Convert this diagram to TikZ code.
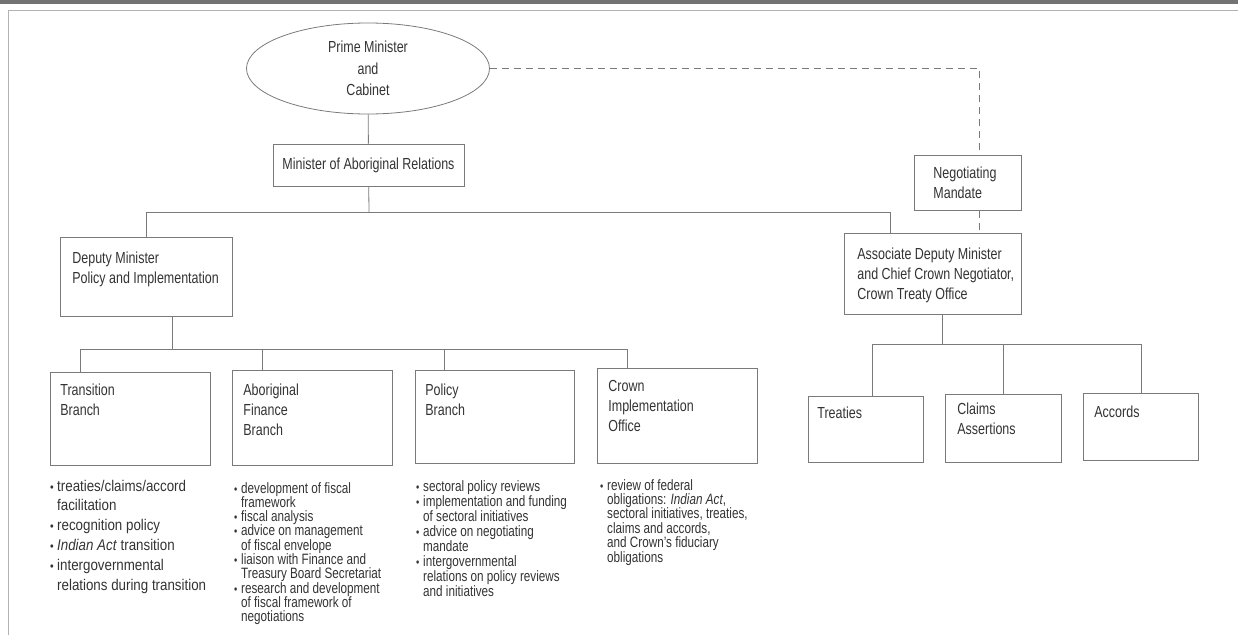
\documentclass[tikz,border=0pt]{standalone}
\usepackage{fontspec}
\setmainfont{Liberation Sans}[FakeStretch=0.78]
\newfontfamily\widefont{Liberation Sans}[FakeStretch=0.86]
\usetikzlibrary{shapes.geometric}
\definecolor{inkgray}{HTML}{333333}
\definecolor{rulegray}{HTML}{7A7A7A}
\newcommand{\bul}{\makebox[7pt][l]{\fontsize{12}{12}\selectfont\textbullet}}
\newcommand{\hang}{\hspace*{7pt}}
\tikzset{
  orgbox/.style={draw=rulegray, line width=0.8pt, rectangle, anchor=north west,
    inner xsep=0pt, text=inkgray, font=\fontsize{16}{20}\selectfont},
  notes/.style={anchor=base west, inner sep=0pt, text=inkgray},
  link/.style={draw=rulegray, line width=0.8pt},
  mandateline/.style={link, dash pattern=on 7pt off 5pt}
}
\begin{document}
\begin{tikzpicture}[x=1pt, y=-1pt]
    \useasboundingbox (0,0) rectangle (1238,635);
    % cadre de la page
    \fill[black!55] (0,0) rectangle (1238,4);
    \draw[black!30, line width=0.8pt] (8,635) -- (8,10) -- (1238,10);

    % Cabinet et ministre
    \node[draw=rulegray, line width=0.8pt, ellipse, minimum width=243, minimum height=91, inner sep=0pt,
      text=inkgray, align=center, font=\fontsize{16}{21.5}\selectfont] (cabinet) at (368,68.5) {Prime Minister\\and\\Cabinet};
    \node[orgbox, anchor=center, minimum width=191, minimum height=42, inner sep=0pt] (minister) at (368.5,165) {Minister of Aboriginal Relations};

    % Sous-ministres
    \node[orgbox, inner ysep=14pt] (deputy) at (60,237) {\parbox[c][51pt][t]{172pt}{\leftskip=12pt Deputy Minister\\Policy and Implementation}};
    \node[orgbox, inner ysep=12pt] (mandate) at (914,155) {\parbox[c][31pt][t]{107pt}{\leftskip=19pt Negotiating\\Mandate}};
    \node[orgbox, inner ysep=14pt] (associate) at (844,233) {\parbox[c][53pt][t]{177pt}{\leftskip=13pt Associate Deputy Minister\\and Chief Crown Negotiator,\\Crown Treaty Office}};

    % Directions
    \node[orgbox, inner ysep=11pt] (transition) at (50,372) {\parbox[c][71pt][t]{160pt}{\leftskip=10pt Transition\\Branch}};
    \node[orgbox, inner ysep=13pt] (finance) at (232,370) {\parbox[c][69pt][t]{160pt}{\leftskip=11pt Aboriginal\\Finance\\Branch}};
    \node[orgbox, inner ysep=13pt] (policy) at (415,370) {\parbox[c][67pt][t]{159pt}{\leftskip=10pt Policy\\Branch}};
    \node[orgbox, inner ysep=12pt] (crown) at (597,368) {\parbox[c][71pt][t]{160pt}{\leftskip=11pt Crown\\Implementation\\Office}};

    % Bureaux du traité
    \node[orgbox, inner ysep=10pt] (treaties) at (808,396) {\parbox[c][46pt][t]{115pt}{\leftskip=9pt Treaties}};
    \node[orgbox, inner ysep=8pt] (claims) at (945,394) {\parbox[c][52pt][t]{116pt}{\leftskip=12pt Claims\\Assertions}};
    \node[orgbox, inner ysep=12pt] (accords) at (1083,393) {\parbox[c][43pt][t]{115pt}{\leftskip=11pt Accords}};

    % Mandats des directions
    \node[notes, font=\widefont\fontsize{15.5}{19.8}\selectfont] (transnotes) at (50,491) {\parbox[t]{200pt}{\raggedright
      \bul treaties/claims/accord\\\hang facilitation\\\bul recognition policy\\\bul \textit{Indian Act} transition\\\bul intergovernmental\\\hang relations during transition}};
    \node[notes, font=\fontsize{15}{14.3}\selectfont] (financenotes) at (234,493) {\parbox[t]{200pt}{\raggedright
      \bul development of fiscal\\\hang framework\\\bul fiscal analysis\\\bul advice on management\\\hang of fiscal envelope\\\bul liaison with Finance and\\\hang Treasury Board Secretariat\\\bul research and development\\\hang of fiscal framework of\\\hang negotiations}};
    \node[notes, font=\fontsize{15}{15.1}\selectfont] (policynotes) at (416,491) {\parbox[t]{200pt}{\raggedright
      \bul sectoral policy reviews\\\bul implementation and funding\\\hang of sectoral initiatives\\\bul advice on negotiating\\\hang mandate\\\bul intergovernmental\\\hang relations on policy reviews\\\hang and initiatives}};
    \node[notes, font=\fontsize{15}{14.4}\selectfont] (crownnotes) at (600,490) {\parbox[t]{200pt}{\raggedright
      \bul review of federal\\\hang obligations: \textit{Indian Act},\\\hang sectoral initiatives, treaties,\\\hang claims and accords,\\\hang and Crown's fiduciary\\\hang obligations}};

    % Liens hiérarchiques
    \coordinate (topbar) at (369,212);
    \coordinate (branchbar) at (172,349);
    \coordinate (officebar) at (942,344);
    \draw[link] (cabinet) -- (minister);
    \draw[link] (minister) -- (topbar);
    \draw[link] (topbar) -| (deputy.north);
    \draw[link] (topbar) -| ([xshift=46pt]associate.north west);
    \draw[link] ([xshift=112pt]deputy.south west) -- (branchbar);
    \draw[link] (branchbar) -| ([xshift=30pt]transition.north west);
    \draw[link] (branchbar) -| ([xshift=30pt]finance.north west);
    \draw[link] (branchbar) -| ([xshift=29pt]policy.north west);
    \draw[link] (branchbar) -| ([xshift=30pt]crown.north west);
    \draw[link] ([xshift=98pt]associate.south west) -- (officebar);
    \draw[link] (officebar) -| ([xshift=64pt]treaties.north west);
    \draw[link] (officebar) -| (claims.north);
    \draw[link] (officebar) -| (accords.north);

    % Mandat de négociation
    \draw[mandateline] (cabinet.east) -| ([xshift=65pt]mandate.north west);
    \draw[mandateline] ([xshift=65pt]mandate.south west) -- ([xshift=65pt]mandate.south west |- associate.north);
\end{tikzpicture}
\end{document}
